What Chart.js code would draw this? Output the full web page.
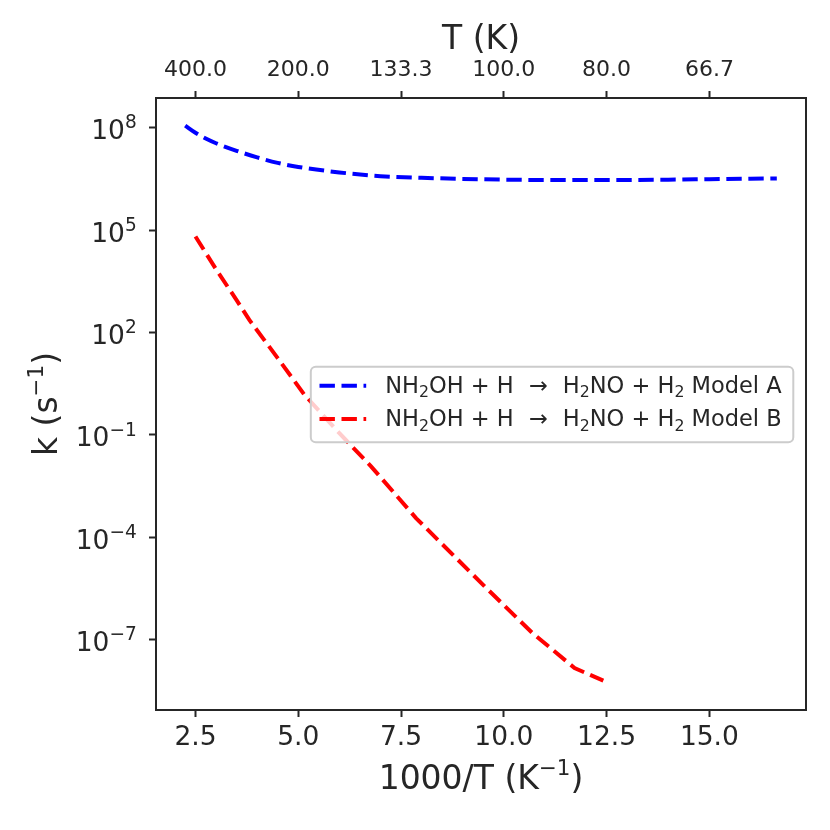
<!DOCTYPE html>
<html>
<head>
<meta charset="utf-8">
<script src="https://cdn.jsdelivr.net/npm/chart.js@4.4.1/dist/chart.umd.min.js"></script>
<style>
  html, body { margin: 0; padding: 0; background: #fff; }
  #wrap { width: 830px; height: 830px; }
</style>
</head>
<body>
<div id="wrap"><canvas id="chart"></canvas></div>
<script>
// 1000/T (K^-1) and rate constants k (s^-1)
const invTA = [2.25, 2.5, 2.75, 3.0, 3.5, 4.0, 4.5, 5.0, 6.0, 7.0, 8.0, 9.0, 10.0, 11.0, 12.0, 13.0, 14.0, 15.0, 16.0, 16.64];
const rateA = [1.15e8, 7.1e7, 4.8e7, 3.5e7, 2.1e7, 1.35e7, 9.3e6, 7.1e6, 4.9e6, 3.8e6, 3.4e6, 3.16e6, 3.0e6, 2.95e6, 2.95e6, 2.95e6, 3.0e6, 3.1e6, 3.2e6, 3.25e6];
const invTB = [2.5, 3.0, 3.5, 3.81, 4.5, 5.15, 6.0, 6.77, 7.87, 9.49, 10.7, 11.72, 12.42];
const rateB = [6.5e4, 7.1e3, 890, 234, 17.8, 1.5, 0.112, 0.012, 3.6e-4, 4.1e-6, 1.55e-7, 1.48e-8, 6.3e-9];

const xTicks = [2.5, 5.0, 7.5, 10.0, 12.5, 15.0];
const topTickLabels = ["400.0", "200.0", "133.3", "100.0", "80.0", "66.7"];
const yTicks = [1e8, 1e5, 1e2, 1e-1, 1e-4, 1e-7];
const seriesLabels = [
    "NH₂OH + H → H₂NO + H₂ Model A",
    "NH₂OH + H → H₂NO + H₂ Model B"
];
const seriesColors = ["#0000ff", "#ff0000"];

const FONT = "DejaVu Sans";
const INK = "#262626";
const DASH = [15.4, 6.6];
const LEGEND_SIZE = 22.5;

const tickGrid = {
    display: true,
    drawOnChartArea: false,
    drawTicks: true,
    tickLength: 7,
    tickWidth: 2,
    tickColor: INK,
    color: INK
};
const spine = { display: true, color: INK, width: 2 };

function points(xs, ys) {
    return xs.map((x, i) => ({ x: x, y: ys[i] }));
}

// turn "NH₂OH" style text into pieces, subscripts drawn smaller and lower
function legendParts(label) {
    const parts = [];
    for (const ch of label) {
        if (ch === "₂") parts.push({ t: "2", k: "sub" });
        else if (ch === "→") parts.push({ t: "→", k: "", pad: 8 });
        else if (parts.length && !parts[parts.length - 1].k && !parts[parts.length - 1].pad) parts[parts.length - 1].t += ch;
        else parts.push({ t: ch, k: "" });
    }
    return parts;
}

// draws pieces on one baseline, returns width
function drawRich(ctx, parts, size, x, y, align, smallScale) {
    const pieces = parts.map(p => {
        const s = p.k ? size * smallScale : size;
        ctx.font = `${s}px "${FONT}"`;
        const pad = p.pad || 0;
        return {
            t: p.t, s: s, pad: pad,
            dy: p.k === "sup" ? -0.41 * size : p.k === "sub" ? 0.2 * size : 0,
            w: ctx.measureText(p.t).width + 2 * pad
        };
    });
    const total = pieces.reduce((a, p) => a + p.w, 0);
    let cx = align === "center" ? x - total / 2 : align === "right" ? x - total : x;
    ctx.textAlign = "left";
    ctx.textBaseline = "alphabetic";
    pieces.forEach(p => {
        ctx.font = `${p.s}px "${FONT}"`;
        ctx.fillText(p.t, cx + p.pad, y + p.dy);
        cx += p.w;
    });
    return total;
}

function measureRich(ctx, parts, size, smallScale) {
    return parts.reduce((a, p) => {
        ctx.font = `${p.k ? size * smallScale : size}px "${FONT}"`;
        return a + ctx.measureText(p.t).width + 2 * (p.pad || 0);
    }, 0);
}

// right spine, 10^n labels, axis titles with superscripts and the legend box
const decorations = {
    id: "decorations",
    afterDraw(chart) {
        const { ctx, chartArea: a } = chart;
        const y = chart.scales.y;
        ctx.save();

        ctx.strokeStyle = INK;
        ctx.lineWidth = 2;
        ctx.beginPath();
        ctx.moveTo(a.right, a.top - 1);
        ctx.lineTo(a.right, a.bottom + 1);
        ctx.stroke();

        ctx.fillStyle = INK;
        y.ticks.forEach(t => {
            const py = y.getPixelForValue(t.value);
            const exp = Math.round(Math.log10(t.value));
            const expText = (exp < 0 ? "\u2212" : "") + Math.abs(exp);
            drawRich(ctx, [{ t: "10", k: "" }, { t: expText, k: "sup" }], 26.5,
                a.left - 19.3, py + 11.6, "right", 0.7);
        });

        const supTitle = [{ t: "\u22121", k: "sup" }, { t: ")", k: "" }];
        drawRich(ctx, [{ t: "1000/T (K", k: "" }].concat(supTitle), 33,
            (a.left + a.right) / 2, 789, "center", 0.65);

        ctx.save();
        ctx.translate(56.7, (a.top + a.bottom) / 2);
        ctx.rotate(-Math.PI / 2);
        drawRich(ctx, [{ t: "k (s", k: "" }].concat(supTitle), 33, 0, 0, "center", 0.65);
        ctx.restore();

        const rowsParts = chart.data.datasets.map(ds => legendParts(ds.label));
        const tw = Math.max(...rowsParts.map(p => measureRich(ctx, p, LEGEND_SIZE, 0.7)));
        const boxW = 8.7 + 46.7 + 19 + tw + 11.6;
        const boxH = 75.6;
        const bx = a.right - 12.7 - boxW;
        const by = a.top + 268.7;
        ctx.beginPath();
        ctx.roundRect(bx, by, boxW, boxH, 5);
        ctx.fillStyle = "rgba(255,255,255,0.8)";
        ctx.fill();
        ctx.strokeStyle = "#cccccc";
        ctx.lineWidth = 2;
        ctx.stroke();

        const rows = [by + 19, by + 52.3];
        chart.data.datasets.forEach((ds, i) => {
            ctx.strokeStyle = ds.borderColor;
            ctx.lineWidth = 4;
            ctx.setLineDash(DASH);
            ctx.beginPath();
            ctx.moveTo(bx + 8.7, rows[i]);
            ctx.lineTo(bx + 55.4, rows[i]);
            ctx.stroke();
            ctx.setLineDash([]);
            ctx.fillStyle = INK;
            drawRich(ctx, rowsParts[i], LEGEND_SIZE, bx + 74.4, rows[i] + 7, "left", 0.7);
        });

        ctx.restore();
    }
};

new Chart(document.getElementById("chart"), {
    type: "line",
    data: {
        datasets: [0, 1].map(i => ({
            label: seriesLabels[i],
            data: i === 0 ? points(invTA, rateA) : points(invTB, rateB),
            borderColor: seriesColors[i],
            borderWidth: 4,
            borderDash: DASH,
            pointRadius: 0,
            fill: false,
            cubicInterpolationMode: i === 0 ? "monotone" : "default",
            tension: 0,
            xAxisID: "x",
            yAxisID: "y"
        }))
    },
    options: {
        responsive: true,
        maintainAspectRatio: false,
        animation: false,
        layout: { padding: { left: 0, right: 24, top: 0, bottom: 0 } },
        plugins: {
            legend: { display: false },
            tooltip: { enabled: false }
        },
        scales: {
            x: {
                type: "linear",
                position: "bottom",
                min: 1.54,
                max: 17.35,
                bounds: "data",
                afterBuildTicks: s => { s.ticks = xTicks.map(v => ({ value: v })); },
                afterFit: s => { s.height = 120; },
                grid: tickGrid,
                border: spine,
                ticks: {
                    autoSkip: false,
                    maxRotation: 0,
                    padding: 5,
                    color: INK,
                    font: { family: FONT, size: 26.5 },
                    callback: v => Number(v).toFixed(1)
                }
            },
            x2: {
                type: "linear",
                position: "top",
                min: 1.54,
                max: 17.35,
                bounds: "data",
                afterBuildTicks: s => { s.ticks = xTicks.map(v => ({ value: v })); },
                afterFit: s => { s.height = 98; },
                grid: tickGrid,
                border: spine,
                ticks: {
                    autoSkip: false,
                    maxRotation: 0,
                    padding: 8,
                    color: INK,
                    font: { family: FONT, size: 22 },
                    callback: (v, i) => topTickLabels[i]
                },
                title: {
                    display: true,
                    text: "T (K)",
                    color: INK,
                    font: { family: FONT, size: 33, lineHeight: 1 },
                    padding: { top: 24, bottom: 0 }
                }
            },
            y: {
                type: "logarithmic",
                position: "left",
                min: Math.pow(10, -9.06),
                max: Math.pow(10, 8.87),
                bounds: "data",
                afterBuildTicks: s => { s.ticks = yTicks.map(v => ({ value: v })); },
                afterFit: s => { s.width = 156; },
                grid: tickGrid,
                border: spine,
                ticks: { display: false }
            }
        }
    },
    plugins: [decorations]
});
</script>
</body>
</html>
